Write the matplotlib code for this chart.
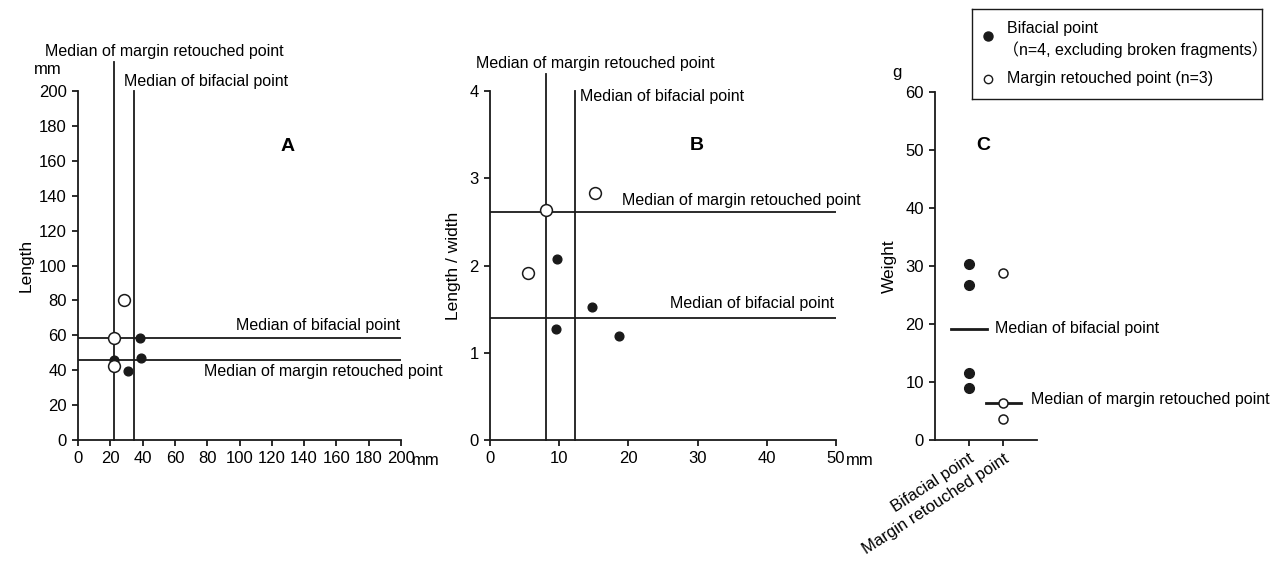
import matplotlib
matplotlib.use('Agg')
import matplotlib.pyplot as plt

plt.rcParams['font.family'] = ['Liberation Sans', 'Noto Sans CJK JP', 'DejaVu Sans']
plt.rcParams['font.size'] = 11.5

# Panel A: width (mm) vs length (mm)
a_bif_width = [22.0, 38.1, 39.2, 30.7]
a_bif_length = [46.0, 58.2, 46.8, 39.3]
a_mar_width = [28.2, 22.0, 22.0]
a_mar_length = [80.5, 58.2, 42.3]
a_vmed_mar, a_vmed_bif = 22.3, 34.5
a_hmed_bif, a_hmed_mar = 58.4, 45.8

# Panel B: width (mm) vs length / width
b_bif_width = [9.7, 14.8, 9.6, 18.7]
b_bif_ratio = [2.08, 1.53, 1.27, 1.19]
b_mar_width = [15.2, 8.05, 5.45]
b_mar_ratio = [2.83, 2.64, 1.91]
b_vmed_mar, b_vmed_bif = 8.1, 12.3
b_hmed_mar, b_hmed_bif = 2.61, 1.40

# Panel C: weight (g)
c_categories = ['Bifacial point', 'Margin retouched point']
c_bif_weight = [30.3, 26.7, 11.5, 8.9]
c_mar_weight = [28.8, 6.3, 3.7]
c_med_bif, c_med_mar = 19.1, 6.3

INK = '#1a1a1a'
LW = 1.3

fig = plt.figure(figsize=(12.81, 5.62), dpi=100)
W, H = 1281, 562


def px_axes(l, t, r, b):
    return fig.add_axes([l / W, 1 - b / H, (r - l) / W, (b - t) / H])


def style(ax):
    for s in ['top', 'right']:
        ax.spines[s].set_visible(False)
    for s in ['left', 'bottom']:
        ax.spines[s].set_color(INK)
        ax.spines[s].set_linewidth(LW)
    ax.tick_params(direction='out', length=4, width=LW, color=INK, labelsize=12, pad=4)


def filled(ax, x, y, ms=6.3):
    ax.plot(x, y, 'o', ms=ms, color=INK, mec=INK, clip_on=False, zorder=5, ls='none')


def hollow(ax, x, y, ms=8.5):
    ax.plot(x, y, 'o', ms=ms, mfc='white', mec=INK, mew=1.1, clip_on=False, zorder=6, ls='none')


# ---------------- A ----------------
axA = px_axes(78, 91, 401, 440)
style(axA)
axA.set_xlim(0, 200)
axA.set_ylim(0, 200)
axA.set_xticks(range(0, 201, 20))
axA.set_yticks(range(0, 201, 20))
axA.plot([a_vmed_mar, a_vmed_mar], [0, 216.5], color=INK, lw=LW, clip_on=False)
axA.plot([a_vmed_bif, a_vmed_bif], [0, 200], color=INK, lw=LW, clip_on=False)
axA.axhline(a_hmed_bif, color=INK, lw=LW)
axA.axhline(a_hmed_mar, color=INK, lw=LW)
filled(axA, a_bif_width, a_bif_length)
hollow(axA, a_mar_width, a_mar_length)
axA.text(53.5, 222.4, 'Median of margin retouched point', ha='center', va='center')
axA.text(79.1, 205.7, 'Median of bifacial point', ha='center', va='center')
axA.text(199.6, 65.5, 'Median of bifacial point', ha='right', va='center')
axA.text(226, 39.5, 'Median of margin retouched point', ha='right', va='center')
axA.text(130, 168.4, 'A', ha='center', va='center', fontsize=14, fontweight='bold')
axA.text(-19, 212.6, 'mm', ha='center', va='center', fontsize=12)
axA.text(207, -11.5, 'mm', ha='left', va='center', fontsize=12)
axA.set_ylabel('Length', labelpad=4, fontsize=12.5)

# ---------------- B ----------------
axB = px_axes(490, 91, 836, 440)
style(axB)
axB.set_xlim(0, 50)
axB.set_ylim(0, 4)
axB.set_xticks(range(0, 51, 10))
axB.set_yticks(range(0, 5))
axB.plot([b_vmed_mar, b_vmed_mar], [0, 4.2], color=INK, lw=LW, clip_on=False)
axB.plot([b_vmed_bif, b_vmed_bif], [0, 4.0], color=INK, lw=LW, clip_on=False)
axB.axhline(b_hmed_mar, color=INK, lw=LW)
axB.axhline(b_hmed_bif, color=INK, lw=LW)
filled(axB, b_bif_width, b_bif_ratio)
hollow(axB, b_mar_width, b_mar_ratio)
axB.text(15.2, 4.31, 'Median of margin retouched point', ha='center', va='center')
axB.text(13.0, 3.94, 'Median of bifacial point', ha='left', va='center')
axB.text(53.5, 2.75, 'Median of margin retouched point', ha='right', va='center')
axB.text(49.7, 1.57, 'Median of bifacial point', ha='right', va='center')
axB.text(29.9, 3.38, 'B', ha='center', va='center', fontsize=14, fontweight='bold')
axB.text(51.5, -0.23, 'mm', ha='left', va='center', fontsize=12)
axB.set_ylabel('Length / width', labelpad=6, fontsize=12.5)

# ---------------- C ----------------
axC = px_axes(935, 92, 1037, 440)
style(axC)
axC.set_xlim(0, 3)
axC.set_ylim(0, 60)
axC.set_yticks(range(0, 61, 10))
axC.set_xticks([1, 2])
axC.set_xticklabels(c_categories, rotation=33, ha='right', rotation_mode='anchor')
filled(axC, [1] * len(c_bif_weight), c_bif_weight, ms=7)
hollow(axC, [2] * len(c_mar_weight), c_mar_weight, ms=6.5)
axC.plot([0.47, 1.53], [c_med_bif, c_med_bif], color=INK, lw=2.0)
axC.plot([1.49, 2.52], [c_med_mar, c_med_mar], color=INK, lw=2.0, zorder=4)
axC.text(1.76, 19.3, 'Median of bifacial point', ha='left', va='center')
axC.text(2.82, 6.9, 'Median of margin retouched point', ha='left', va='center')
axC.text(1.41, 50.7, 'C', ha='center', va='center', fontsize=14, fontweight='bold')
axC.text(-1.12, 63.4, 'g', ha='center', va='center', fontsize=12)
axC.set_ylabel('Weight', labelpad=6, fontsize=12.5)

# ---------------- legend box ----------------
axL = px_axes(972, 9, 1262, 99)
axL.set_xlim(0, 290)
axL.set_ylim(90, 0)
axL.set_xticks([])
axL.set_yticks([])
for s in axL.spines.values():
    s.set_color(INK)
    s.set_linewidth(1.0)
axL.plot([16], [27], 'o', ms=6.5, color=INK)
axL.plot([16], [70], 'o', ms=6, mfc='white', mec=INK, mew=1.0)
axL.text(35, 20, 'Bifacial point', ha='left', va='center')
axL.text(31, 41, '（n=4, excluding broken fragments）', ha='left', va='center')
axL.text(35, 69, 'Margin retouched point (n=3)', ha='left', va='center')

fig.savefig('out.png', dpi=100)
